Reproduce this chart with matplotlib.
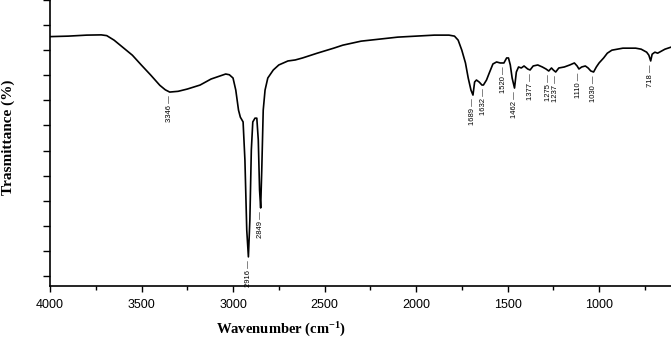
import numpy as np
import matplotlib
matplotlib.use("Agg")
import matplotlib.pyplot as plt

# FTIR spectrum (arbitrary transmittance units)
wavenumber = [4000, 3900, 3800, 3720, 3690, 3650, 3600, 3550, 3500, 3450, 3400,
              3370, 3346, 3300, 3250, 3180, 3120, 3080, 3040, 3020, 3000, 2985,
              2970, 2960, 2945, 2935, 2925, 2916, 2908, 2900, 2892, 2880, 2870,
              2862, 2855, 2849, 2843, 2835, 2825, 2810, 2780, 2750, 2700, 2660,
              2620, 2540, 2450, 2400, 2300, 2200, 2100, 2000, 1900, 1820, 1790,
              1770, 1750, 1730, 1715, 1700, 1689, 1680, 1670, 1655, 1640, 1632,
              1615, 1600, 1580, 1560, 1540, 1520, 1505, 1495, 1485, 1475, 1462,
              1452, 1440, 1425, 1410, 1390, 1377, 1360, 1335, 1310, 1290, 1275,
              1260, 1250, 1237, 1220, 1190, 1160, 1135, 1120, 1110, 1095, 1075,
              1060, 1045, 1030, 1015, 1000, 975, 955, 930, 900, 870, 840, 800,
              770, 740, 728, 718, 710, 695, 680, 660, 640, 607]
transmittance = [9.54, 9.56, 9.60, 9.61, 9.58, 9.40, 9.10, 8.80, 8.40, 8.01, 7.60,
                 7.42, 7.33, 7.36, 7.45, 7.61, 7.85, 7.95, 8.05, 8.02, 7.89, 7.41,
                 6.61, 6.33, 6.14, 4.62, 1.83, 0.76, 2.23, 5.02, 6.14, 6.29, 6.29,
                 5.42, 3.43, 2.71, 4.22, 6.61, 7.41, 7.89, 8.21, 8.41, 8.57, 8.61,
                 8.69, 8.88, 9.08, 9.20, 9.36, 9.44, 9.52, 9.56, 9.60, 9.60, 9.56,
                 9.40, 9.00, 8.49, 7.89, 7.41, 7.21, 7.73, 7.81, 7.73, 7.61, 7.61,
                 7.81, 8.09, 8.45, 8.53, 8.49, 8.49, 8.69, 8.69, 8.41, 7.89, 7.49,
                 8.13, 8.33, 8.29, 8.37, 8.25, 8.21, 8.37, 8.41, 8.33, 8.25, 8.17,
                 8.29, 8.21, 8.13, 8.29, 8.33, 8.41, 8.49, 8.37, 8.25, 8.33, 8.37,
                 8.29, 8.17, 8.13, 8.33, 8.49, 8.69, 8.88, 9.00, 9.04, 9.08, 9.08,
                 9.08, 9.04, 8.92, 8.80, 8.57, 8.84, 8.92, 8.88, 8.96, 9.04, 9.12]

peak_labels = [3346, 2916, 2849, 1689, 1632, 1520, 1462, 1377, 1275, 1237,
               1110, 1030, 718]

plt.rcParams['font.family'] = ['Liberation Sans', 'DejaVu Sans']
plt.rcParams['mathtext.fontset'] = 'custom'
plt.rcParams['mathtext.rm'] = 'Liberation Serif:bold'
plt.rcParams['mathtext.default'] = 'rm'

fig = plt.figure(figsize=(6.71, 3.40), dpi=100)
ax = fig.add_axes([50 / 671, 54 / 340, 621 / 671, 286 / 340])

ax.plot(wavenumber, transmittance, color='black', linewidth=1.2)

# peak annotations: rotated number with a short dash pointing at the curve
wn_sorted = np.array(wavenumber[::-1])
tr_sorted = np.array(transmittance[::-1])
for w in peak_labels:
    y = np.interp(w, wn_sorted, tr_sorted)
    ax.annotate(f'{w} \u2014', xy=(w, y), xytext=(0, -2.5),
                textcoords='offset points', rotation=90,
                ha='center', va='top', fontsize=5.5)

ax.set_xlim(4000, 607)
ax.set_ylim(-0.4, 11.0)
ax.set_xticks([4000, 3500, 3000, 2500, 2000, 1500, 1000])
ax.set_xticks(np.arange(3750, 600, -500), minor=True)
ax.set_yticks(np.arange(0, 12, 1))
ax.set_yticklabels([])
ax.tick_params(axis='x', which='major', direction='out', length=4, width=1,
               labelsize=9, pad=5)
ax.tick_params(axis='x', which='minor', direction='out', length=3, width=1)
ax.tick_params(axis='y', direction='out', length=5, width=1)

for side in ['top', 'right']:
    ax.spines[side].set_visible(False)
for side in ['left', 'bottom']:
    ax.spines[side].set_linewidth(1.2)

ax.set_xlabel(r'Wavenumber (cm$^{-1}$)', family='Liberation Serif',
              fontweight='bold', fontsize=10.5)
ax.xaxis.set_label_coords(0.372, -0.155)
ax.xaxis.label.set_va('center')
ax.set_ylabel('Trasmittance (%)', family='Liberation Serif',
              fontweight='bold', fontsize=11)
ax.yaxis.set_label_coords(-0.0676, 0.52)
ax.yaxis.label.set_va('center')

fig.savefig('out.png', dpi=100, facecolor='white')
